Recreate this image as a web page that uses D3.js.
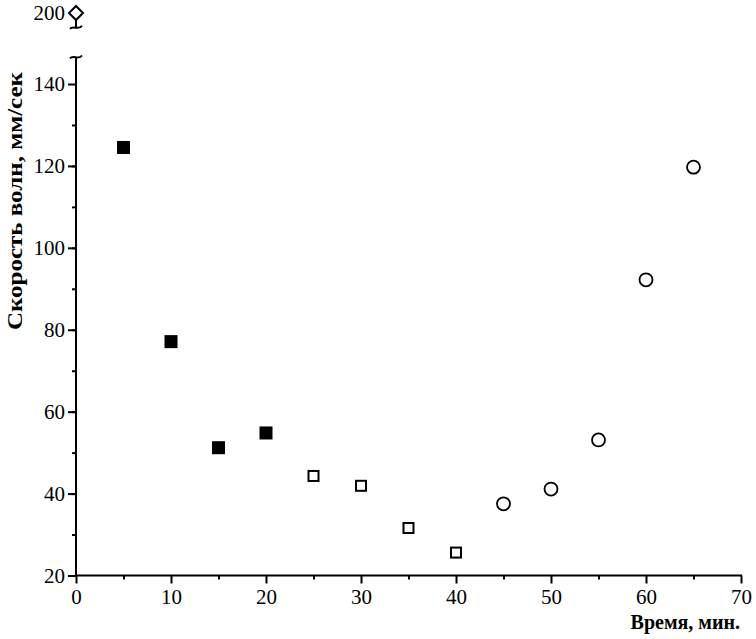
<!DOCTYPE html>
<html><head><meta charset="utf-8">
<script src="https://cdn.jsdelivr.net/npm/d3@7"></script>
<style>body{margin:0;background:#fff}svg{display:block}text{font-family:"Liberation Serif","Times New Roman",serif !important}</style>
</head><body><svg id="c" width="756" height="639" font-family="Liberation Serif"></svg>
<script>
// Data
const filledX = [5, 10, 15, 20];
const filledY = [124.5, 77.1, 51.2, 54.8];
const openSqX = [25, 30, 35, 40];
const openSqY = [44.3, 41.9, 31.6, 25.6];
const circleX = [45, 50, 55, 60, 65];
const circleY = [37.5, 41.1, 53.1, 92.2, 119.7];
const diamondX = [0];
const diamondY = [200];
const xTicks = [0, 10, 20, 30, 40, 50, 60, 70];
const yTicks = [20, 40, 60, 80, 100, 120, 140];
const yTopTicks = [200];

const FF = "Liberation Serif, Times New Roman, serif";
const svg = d3.select("#c");
const x = d3.scaleLinear().domain([0, 70]).range([76, 741]);
const y = d3.scaleLinear().domain([20, 140]).range([575.5, 84]);
const yTop = d3.scaleLinear().domain([195, 205]).range([33.5, -7.5]); // 200 -> 13

const axisW = 2;
// X axis
const gx = svg.append("g").attr("transform", `translate(0,${y(20)})`);
gx.call(d3.axisBottom(x).tickValues(xTicks).tickSize(8).tickSizeOuter(0).tickFormat(d3.format("d")));
gx.append("g").call(d3.axisBottom(x).tickValues(d3.range(5, 70, 10)).tickSize(4).tickFormat("")).select(".domain").remove();
gx.attr("font-family", FF);
gx.selectAll("line").attr("stroke", "#000").attr("stroke-width", 2);
gx.select(".domain").attr("stroke", "#000").attr("stroke-width", axisW).attr("d", `M${x(0)-1},0H${x(70)+1}`);
gx.selectAll("text").attr("font-family", FF).attr("font-size", 21).attr("fill", "#000").attr("dy", "0.95em").attr("y", 9);

// Y axis main
const yMax = 146.6;
const gy = svg.append("g").attr("transform", `translate(${x(0)},0)`);
gy.call(d3.axisLeft(y).tickValues(yTicks).tickSize(8).tickSizeOuter(0));
gy.append("g").call(d3.axisLeft(y).tickValues(d3.range(30, 140, 10)).tickSize(4).tickFormat("")).select(".domain").remove();
gy.attr("font-family", FF);
gy.selectAll("line").attr("stroke", "#000").attr("stroke-width", 2);
gy.select(".domain").attr("stroke", "#000").attr("stroke-width", axisW).attr("d", `M0,${y(20)}V${y(yMax)}`);
gy.selectAll("text").attr("font-family", FF).attr("font-size", 21).attr("fill", "#000").attr("x", -11);

// Y axis top segment
const gyt = svg.append("g").attr("transform", `translate(${x(0)},0)`);
gyt.call(d3.axisLeft(yTop).tickValues(yTopTicks).tickSize(0).tickSizeOuter(0));
gyt.attr("font-family", FF);
gyt.select(".domain").attr("stroke", "#000").attr("stroke-width", axisW).attr("d", `M0,${yTop(200)}V${yTop(196.5)}`);
gyt.selectAll("text").attr("font-family", FF).attr("font-size", 21).attr("fill", "#000").attr("x", -11);

// Break marks
function brk(yy) {
  svg.append("path")
    .attr("d", `M${x(0)-6},${yy+1.5} C${x(0)-3},${yy-2.5} ${x(0)+3},${yy+3.5} ${x(0)+6},${yy-1.5}`)
    .attr("fill", "none").attr("stroke", "#000").attr("stroke-width", 2);
}
brk(yTop(196.5));
brk(y(yMax));

// Marks
svg.append("g").selectAll("rect").data(filledX).join("rect")
  .attr("x", (d) => x(d) - 6.5).attr("y", (d, i) => y(filledY[i]) - 6.5)
  .attr("width", 13).attr("height", 13).attr("fill", "#000");

svg.append("g").selectAll("rect").data(openSqX).join("rect")
  .attr("x", (d) => x(d) - 5).attr("y", (d, i) => y(openSqY[i]) - 5)
  .attr("width", 10).attr("height", 10).attr("fill", "#fff").attr("stroke", "#000").attr("stroke-width", 2);

svg.append("g").selectAll("circle").data(circleX).join("circle")
  .attr("cx", (d) => x(d)).attr("cy", (d, i) => y(circleY[i]))
  .attr("r", 6.5).attr("fill", "#fff").attr("stroke", "#000").attr("stroke-width", 1.8);

svg.append("g").selectAll("path").data(diamondX).join("path")
  .attr("transform", (d, i) => `translate(${x(d)},${yTop(diamondY[i])})`)
  .attr("d", "M0,-7L7,0L0,7L-7,0Z")
  .attr("fill", "#fff").attr("stroke", "#000").attr("stroke-width", 2);

// Titles
svg.append("text").attr("x", 740).attr("y", 629).attr("text-anchor", "end").attr("font-family", FF)
  .attr("font-size", 20).attr("font-weight", "bold").text("Время, мин.");
svg.append("text").attr("transform", "translate(22,201) rotate(-90)").attr("text-anchor", "middle").attr("font-family", FF)
  .attr("font-size", 22).attr("font-weight", "bold").attr("textLength", 258).attr("lengthAdjust", "spacingAndGlyphs")
  .text("Скорость волн, мм/сек");
</script></body></html>
